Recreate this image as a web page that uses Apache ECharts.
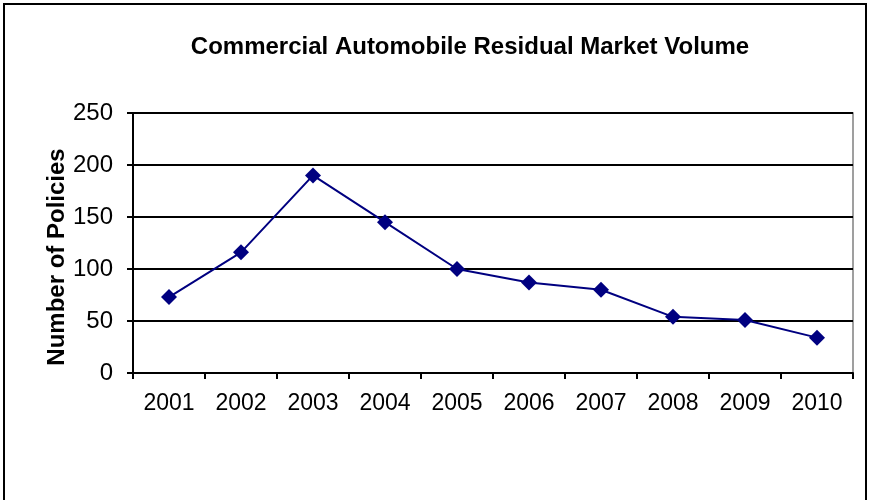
<!DOCTYPE html>
<html>
<head>
<meta charset="utf-8">
<script src="https://cdn.jsdelivr.net/npm/echarts@6/dist/echarts.min.js"></script>
<style>
  html, body { margin: 0; padding: 0; background: #fff; }
  #chart { width: 870px; height: 500px; }
</style>
</head>
<body>
<div id="chart"></div>
<script>
var years = ['2001', '2002', '2003', '2004', '2005', '2006', '2007', '2008', '2009', '2010'];
var policies = [73, 116, 190, 145, 100, 87, 80, 54, 51, 34];
var yTitle = 'Number of Policies';

var chart = echarts.init(document.getElementById('chart'));

var option = {
    backgroundColor: '#fff',
    animation: false,
    title: {
        text: 'Commercial Automobile Residual Market Volume',
        left: 465,
        textAlign: 'center',
        top: 30,
        textStyle: {
            fontFamily: 'Liberation Sans',
            fontWeight: 'bold',
            fontSize: 24,
            color: '#000'
        }
    },
    graphic: [
        {
            type: 'rect',
            shape: { x: 4, y: 4, width: 862, height: 510 },
            style: { fill: 'none', stroke: '#000', lineWidth: 2 }
        },
        {
            // gray plot-area border on top/right
            type: 'rect',
            shape: { x: 133, y: 113, width: 720, height: 260 },
            style: { fill: 'none', stroke: '#808080', lineWidth: 1.5 },
            z: -1
        },
        {
            // axis title sits a bit below the plot centre, like the original
            type: 'text',
            x: 57,
            y: 257,
            rotation: Math.PI / 2,
            style: {
                text: yTitle,
                fill: '#000',
                font: 'bold 24px "Liberation Sans"',
                align: 'center',
                verticalAlign: 'middle'
            }
        }
    ],
    grid: {
        left: 133,
        right: 17,
        top: 113,
        bottom: 127
    },
    xAxis: {
        type: 'category',
        data: years,
        boundaryGap: true,
        axisLine: { lineStyle: { color: '#000', width: 2 } },
        axisTick: { show: true, length: 6, lineStyle: { color: '#000', width: 2 } },
        axisLabel: {
            color: '#000',
            fontFamily: 'Liberation Sans',
            fontSize: 23,
            margin: 19
        }
    },
    yAxis: {
        type: 'value',
        min: 0,
        max: 250,
        interval: 50,
        axisLine: { show: true, lineStyle: { color: '#000', width: 2 } },
        axisTick: { show: true, length: 6, lineStyle: { color: '#000', width: 2 } },
        axisLabel: {
            color: '#000',
            fontFamily: 'Liberation Sans',
            fontSize: 24,
            margin: 20
        },
        splitLine: { lineStyle: { color: '#000', width: 2 } }
    },
    series: [
        {
            type: 'line',
            data: policies,
            symbol: 'diamond',
            symbolSize: 16,
            lineStyle: { color: '#000080', width: 2 },
            itemStyle: { color: '#000080' }
        }
    ]
};

chart.setOption(option);
</script>
</body>
</html>
